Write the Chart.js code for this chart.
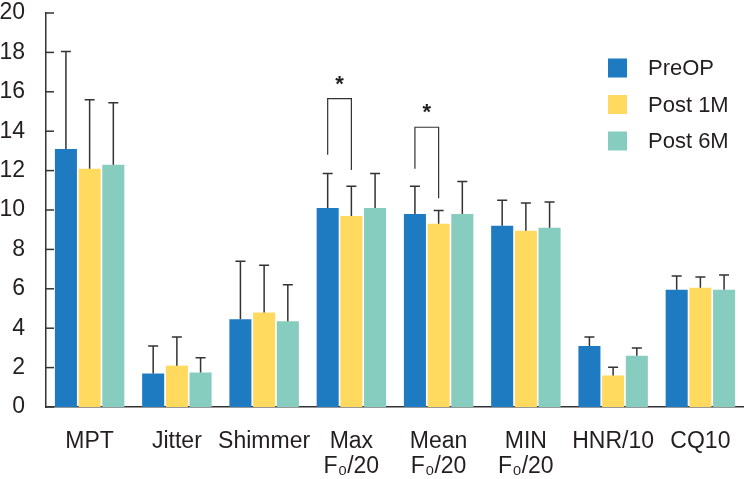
<!DOCTYPE html>
<html>
<head>
<meta charset="utf-8">
<script src="https://cdn.jsdelivr.net/npm/chart.js@4.4.1/dist/chart.umd.min.js"></script>
<style>
  html, body { margin: 0; padding: 0; background: #fff; }
  #wrap { width: 744px; height: 479px; }
</style>
</head>
<body>
<div id="wrap"><canvas id="voiceChart" width="744" height="479"></canvas></div>
<script>
// data
const categories = ['MPT', 'Jitter', 'Shimmer', ['Max', 'F₀/20'], ['Mean', 'F₀/20'], ['MIN', 'F₀/20'], 'HNR/10', 'CQ10'];
const seriesNames = ['PreOP', 'Post 1M', 'Post 6M'];
const preOp   = [13.1, 1.7, 4.45, 10.1, 9.8, 9.2, 3.1, 5.95];
const post1M  = [12.1, 2.1, 4.8, 9.7, 9.3, 8.95, 1.6, 6.05];
const post6M  = [12.3, 1.75, 4.35, 10.1, 9.8, 9.1, 2.6, 5.95];
// standard deviations (upper error bar only)
const sdPreOp  = [4.95, 1.4, 2.95, 1.75, 1.4, 1.3, 0.45, 0.7];
const sdPost1M = [3.5, 1.45, 2.4, 1.5, 0.67, 1.4, 0.42, 0.55];
const sdPost6M = [3.15, 0.75, 1.85, 1.75, 1.65, 1.3, 0.4, 0.75];
const yTicks = [0, 2, 4, 6, 8, 10, 12, 14, 16, 18, 20];
// significance brackets: category, bars compared, bracket top, leg bottoms (axis units)
const brackets = [
  { cat: 3, from: 0, to: 1, top: 15.65, leftEnd: 12.8, rightEnd: 12.03, label: '*' },
  { cat: 4, from: 0, to: 1, top: 14.2, leftEnd: 12.1, rightEnd: 10.6, label: '*' }
];

const colors = ['#1f7bc1', '#ffda5f', '#86ccbf'];
const inkColor = '#333333';
const fontFamily = '"Liberation Sans", Arial, Helvetica, sans-serif';
const sds = [sdPreOp, sdPost1M, sdPost6M];

// error bars, inward y ticks, brackets and legend
const extrasPlugin = {
  id: 'extras',
  afterDatasetsDraw(chart) {
    const ctx = chart.ctx;
    const y = chart.scales.y;
    ctx.save();
    ctx.strokeStyle = inkColor;
    ctx.lineWidth = 1.5;

    // error bars
    chart.data.datasets.forEach((ds, di) => {
      const meta = chart.getDatasetMeta(di);
      meta.data.forEach((bar, i) => {
        const top = y.getPixelForValue(ds.data[i] + sds[di][i]);
        const base = y.getPixelForValue(ds.data[i]);
        ctx.beginPath();
        ctx.moveTo(bar.x, base);
        ctx.lineTo(bar.x, top);
        ctx.moveTo(bar.x - 5, top);
        ctx.lineTo(bar.x + 5, top);
        ctx.stroke();
      });
    });

    // ticks pointing into the plot
    const left = chart.chartArea.left;
    yTicks.forEach(v => {
      const py = y.getPixelForValue(v);
      ctx.beginPath();
      ctx.moveTo(left, py);
      ctx.lineTo(left + 8, py);
      ctx.stroke();
    });

    // significance brackets
    ctx.lineWidth = 1.2;
    ctx.fillStyle = '#231f20';
    ctx.font = 'bold 22px ' + fontFamily;
    ctx.textAlign = 'center';
    ctx.textBaseline = 'middle';
    brackets.forEach(b => {
      const x1 = chart.getDatasetMeta(b.from).data[b.cat].x;
      const x2 = chart.getDatasetMeta(b.to).data[b.cat].x;
      const yt = y.getPixelForValue(b.top);
      ctx.beginPath();
      ctx.moveTo(x1, y.getPixelForValue(b.leftEnd));
      ctx.lineTo(x1, yt);
      ctx.lineTo(x2, yt);
      ctx.lineTo(x2, y.getPixelForValue(b.rightEnd));
      ctx.stroke();
      ctx.fillText(b.label, (x1 + x2) / 2, yt - 14);
    });

    // legend
    ctx.font = '22px ' + fontFamily;
    ctx.textAlign = 'left';
    chart.data.datasets.forEach((ds, di) => {
      const cy = 68 + di * 36.5;
      ctx.fillStyle = ds.backgroundColor;
      ctx.fillRect(608, cy - 9.5, 19, 19);
      ctx.fillStyle = '#231f20';
      ctx.fillText(ds.label, 648, cy + 1);
    });
    ctx.restore();
  }
};

const ctx = document.getElementById('voiceChart').getContext('2d');
new Chart(ctx, {
  type: 'bar',
  data: {
    labels: categories,
    datasets: [
      { label: seriesNames[0], data: preOp, backgroundColor: colors[0] },
      { label: seriesNames[1], data: post1M, backgroundColor: colors[1] },
      { label: seriesNames[2], data: post6M, backgroundColor: colors[2] }
    ]
  },
  options: {
    responsive: false,
    animation: false,
    devicePixelRatio: 1,
    layout: { padding: { top: 13, right: 0, left: 0, bottom: 0 } },
    datasets: {
      bar: { categoryPercentage: 0.815, barPercentage: 0.93, borderWidth: 0 }
    },
    plugins: {
      legend: { display: false },
      tooltip: { enabled: false }
    },
    scales: {
      x: {
        grid: { display: false },
        border: { display: true, color: inkColor, width: 1.5 },
        ticks: {
          color: '#231f20',
          font: { family: fontFamily, size: 23, lineHeight: 1.05 },
          padding: 15,
          maxRotation: 0,
          autoSkip: false
        },
        afterFit(scale) { scale.height = 72; scale.paddingLeft = 0; scale.paddingRight = 0; }
      },
      y: {
        min: 0,
        max: 20,
        grid: { display: false, drawTicks: false },
        border: { display: true, color: inkColor, width: 1.5 },
        ticks: {
          stepSize: 2,
          color: '#231f20',
          font: { family: fontFamily, size: 23 },
          padding: 21
        },
        afterFit(scale) { scale.width = 46; scale.paddingTop = 0; scale.paddingBottom = 0; }
      }
    }
  },
  plugins: [extrasPlugin]
});
</script>
</body>
</html>
